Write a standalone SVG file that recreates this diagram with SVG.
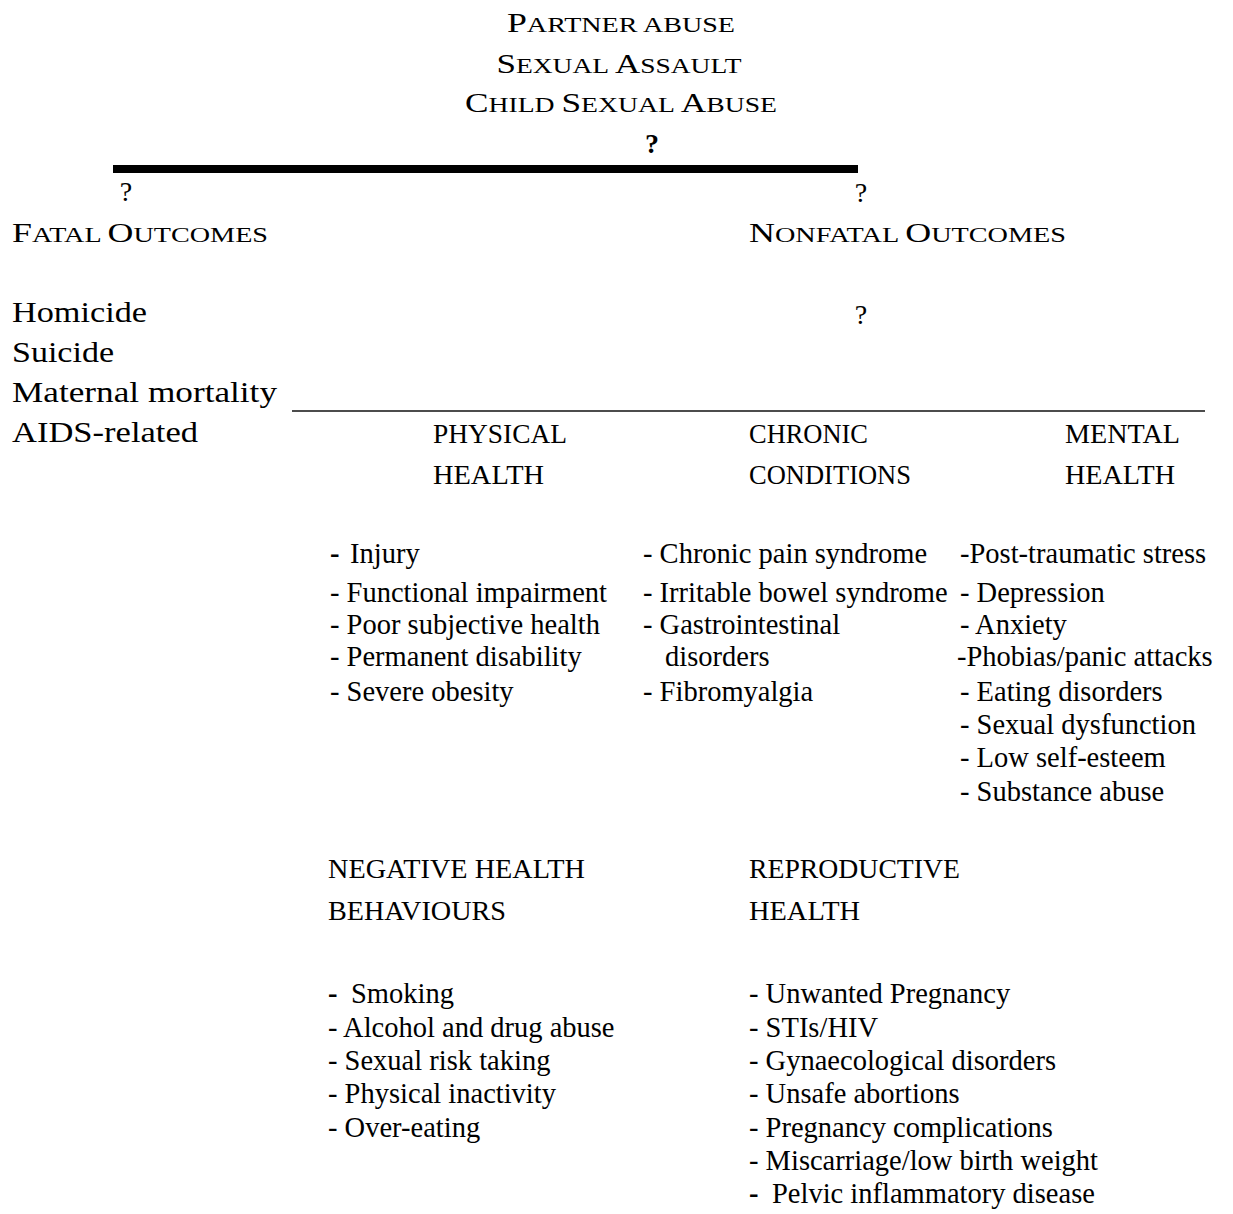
<svg xmlns="http://www.w3.org/2000/svg" width="1233" height="1214" viewBox="0 0 1233 1214">
<style>
text{font-family:"Liberation Serif","Times New Roman",serif;fill:#000}
.li{font-size:28.5px}
.hd{font-size:27px}
.fl{font-size:29.5px}
.big{font-size:28px}
.sm{font-size:22px}
.q{font-size:28px}
.b{font-weight:bold}
</style>
<rect width="1233" height="1214" fill="#fff"/>
<g id="title">
<text x="621" y="32" text-anchor="middle" textLength="228" lengthAdjust="spacingAndGlyphs"><tspan class="big">P</tspan><tspan class="sm">ARTNER ABUSE</tspan></text>
<text x="619" y="73" text-anchor="middle" textLength="245" lengthAdjust="spacingAndGlyphs"><tspan class="big">S</tspan><tspan class="sm">EXUAL </tspan><tspan class="big">A</tspan><tspan class="sm">SSAULT</tspan></text>
<text x="621" y="112" text-anchor="middle" textLength="312" lengthAdjust="spacingAndGlyphs"><tspan class="big">C</tspan><tspan class="sm">HILD </tspan><tspan class="big">S</tspan><tspan class="sm">EXUAL </tspan><tspan class="big">A</tspan><tspan class="sm">BUSE</tspan></text>
</g>
<g id="connectors">
<line x1="113" y1="169" x2="858" y2="169" stroke="#000" stroke-width="8"/>
<line x1="292" y1="411" x2="1205" y2="411" stroke="#111" stroke-width="1.6"/>
<text class="q b" x="652" y="153" text-anchor="middle">?</text>
<text class="q" x="126" y="201" text-anchor="middle">?</text>
<text class="q" x="861" y="202" text-anchor="middle">?</text>
<text class="q" x="861" y="324" text-anchor="middle">?</text>
</g>
<g id="fatal">
<text x="12" y="242" textLength="256" lengthAdjust="spacingAndGlyphs"><tspan class="big">F</tspan><tspan class="sm">ATAL </tspan><tspan class="big">O</tspan><tspan class="sm">UTCOMES</tspan></text>
<text class="fl" x="12" y="322" textLength="135" lengthAdjust="spacingAndGlyphs">Homicide</text>
<text class="fl" x="12" y="362" textLength="102" lengthAdjust="spacingAndGlyphs">Suicide</text>
<text class="fl" x="12" y="402" textLength="265" lengthAdjust="spacingAndGlyphs">Maternal mortality</text>
<text class="fl" x="12" y="442" textLength="186" lengthAdjust="spacingAndGlyphs">AIDS-related</text>
</g>
<g id="nonfatal">
<text x="749" y="242" textLength="317" lengthAdjust="spacingAndGlyphs"><tspan class="big">N</tspan><tspan class="sm">ONFATAL </tspan><tspan class="big">O</tspan><tspan class="sm">UTCOMES</tspan></text>
</g>
<g id="physical">
<text class="hd" x="433" y="443" textLength="134" lengthAdjust="spacingAndGlyphs">PHYSICAL</text>
<text class="hd" x="433" y="484" textLength="111" lengthAdjust="spacingAndGlyphs">HEALTH</text>
<text class="li" x="330" y="563"><tspan class="b">-</tspan><tspan x="350">Injury</tspan></text>
<text class="li" x="330" y="602">- Functional impairment</text>
<text class="li" x="330" y="634">- Poor subjective health</text>
<text class="li" x="330" y="666">- Permanent disability</text>
<text class="li" x="330" y="701">- Severe obesity</text>
</g>
<g id="chronic">
<text class="hd" x="749" y="443" textLength="119" lengthAdjust="spacingAndGlyphs">CHRONIC</text>
<text class="hd" x="749" y="484" textLength="162" lengthAdjust="spacingAndGlyphs">CONDITIONS</text>
<text class="li" x="643" y="563">- Chronic pain syndrome</text>
<text class="li" x="643" y="602">- Irritable bowel syndrome</text>
<text class="li" x="643" y="634">- Gastrointestinal</text>
<text class="li" x="665" y="666">disorders</text>
<text class="li" x="643" y="701">- Fibromyalgia</text>
</g>
<g id="mental">
<text class="hd" x="1065" y="443" textLength="115" lengthAdjust="spacingAndGlyphs">MENTAL</text>
<text class="hd" x="1065" y="484" textLength="110" lengthAdjust="spacingAndGlyphs">HEALTH</text>
<text class="li" x="960" y="563">-Post-traumatic stress</text>
<text class="li" x="960" y="602">- Depression</text>
<text class="li" x="960" y="634">- Anxiety</text>
<text class="li" x="957" y="666">-Phobias/panic attacks</text>
<text class="li" x="960" y="701">- Eating disorders</text>
<text class="li" x="960" y="734">- Sexual dysfunction</text>
<text class="li" x="960" y="767">- Low self-esteem</text>
<text class="li" x="960" y="801">- Substance abuse</text>
</g>
<g id="behaviours">
<text class="hd" x="328" y="878" textLength="257" lengthAdjust="spacingAndGlyphs">NEGATIVE HEALTH</text>
<text class="hd" x="328" y="920" textLength="178" lengthAdjust="spacingAndGlyphs">BEHAVIOURS</text>
<text class="li" x="328" y="1003"><tspan class="b">-</tspan><tspan x="351">Smoking</tspan></text>
<text class="li" x="328" y="1037">- Alcohol and drug abuse</text>
<text class="li" x="328" y="1070">- Sexual risk taking</text>
<text class="li" x="328" y="1103">- Physical inactivity</text>
<text class="li" x="328" y="1137">- Over-eating</text>
</g>
<g id="reproductive">
<text class="hd" x="749" y="878" textLength="211" lengthAdjust="spacingAndGlyphs">REPRODUCTIVE</text>
<text class="hd" x="749" y="920" textLength="111" lengthAdjust="spacingAndGlyphs">HEALTH</text>
<text class="li" x="749" y="1003">- Unwanted Pregnancy</text>
<text class="li" x="749" y="1037">- STIs/HIV</text>
<text class="li" x="749" y="1070">- Gynaecological disorders</text>
<text class="li" x="749" y="1103">- Unsafe abortions</text>
<text class="li" x="749" y="1137">- Pregnancy complications</text>
<text class="li" x="749" y="1170">- Miscarriage/low birth weight</text>
<text class="li" x="749" y="1203"><tspan class="b">-</tspan><tspan x="772">Pelvic inflammatory disease</tspan></text>
</g>
</svg>
